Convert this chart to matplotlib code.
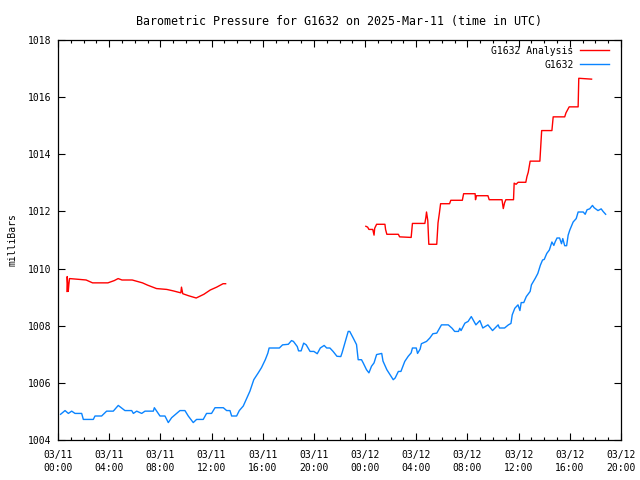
import datetime as dt
import numpy as np
import matplotlib
matplotlib.use('Agg')
import matplotlib.pyplot as plt
from matplotlib.ticker import MultipleLocator, FuncFormatter

# hours since 2025-03-11 00:00 UTC
blue_t = [0.2, 0.55, 0.81, 1.07, 1.33, 1.85, 1.98, 2.37, 2.76, 2.89, 3.41, 3.80, 4.32, 4.71,
          5.23, 5.76, 5.89, 6.15, 6.54, 6.80, 7.45, 7.53, 7.97, 8.36, 8.62, 8.88, 9.27, 9.53,
          9.92, 10.18, 10.57, 10.83, 11.35, 11.61, 12.0, 12.27, 12.92, 13.18, 13.44, 13.57,
          13.96, 14.17, 14.48, 15.0, 15.3, 15.65, 15.9, 16.2, 16.4, 16.5, 17.3, 17.55, 18.0,
          18.25, 18.4, 18.7, 18.8, 19.0, 19.2, 19.4, 19.7, 20.0, 20.26, 20.5, 20.8, 21.0,
          21.25, 21.5, 21.8, 22.1, 22.2, 22.42, 22.68, 22.8, 23.07, 23.33, 23.46, 23.72,
          23.85, 24.11, 24.3, 24.5, 24.7, 24.9, 25.3, 25.4, 25.7, 25.94, 26.2, 26.35, 26.6,
          26.8, 27.1, 27.37, 27.6, 27.7, 28.0, 28.1, 28.3, 28.4, 28.8, 29.06, 29.3, 29.6,
          29.97, 30.5, 30.8, 31.0, 31.3, 31.4, 31.5, 31.8, 32.05, 32.3, 32.66, 32.97, 33.2,
          33.6, 33.96, 34.4, 34.5, 34.9, 35.2, 35.4, 35.5, 35.7, 35.95, 36.1, 36.2, 36.4,
          36.6, 36.9, 37.0, 37.3, 37.5, 37.7, 37.87, 38.0, 38.2, 38.4, 38.6, 38.75, 38.85,
          39.0, 39.2, 39.35, 39.45, 39.6, 39.75, 39.87, 40.0, 40.26, 40.5, 40.65, 41.05,
          41.2, 41.35, 41.55, 41.77, 41.9, 42.2, 42.45, 42.6, 42.8]
blue_p = [1004.90, 1005.03, 1004.93, 1005.01, 1004.93, 1004.93, 1004.72, 1004.72, 1004.72,
          1004.84, 1004.84, 1005.01, 1005.01, 1005.21, 1005.03, 1005.03, 1004.93, 1005.01,
          1004.93, 1005.01, 1005.01, 1005.13, 1004.84, 1004.84, 1004.61, 1004.78, 1004.93,
          1005.03, 1005.03, 1004.84, 1004.61, 1004.72, 1004.72, 1004.93, 1004.93, 1005.13,
          1005.13, 1005.03, 1005.03, 1004.84, 1004.84, 1005.03, 1005.19, 1005.71, 1006.11,
          1006.35, 1006.53, 1006.81, 1007.04, 1007.22, 1007.22, 1007.33, 1007.35, 1007.48,
          1007.45, 1007.27, 1007.12, 1007.12, 1007.39, 1007.33, 1007.10, 1007.10, 1007.02,
          1007.22, 1007.31, 1007.22, 1007.22, 1007.10, 1006.93, 1006.92, 1007.05, 1007.39,
          1007.80, 1007.80, 1007.57, 1007.34, 1006.81, 1006.81, 1006.70, 1006.46, 1006.35,
          1006.58, 1006.70, 1006.99, 1007.03, 1006.76, 1006.46, 1006.29, 1006.11, 1006.17,
          1006.40, 1006.40, 1006.75, 1006.93, 1007.05, 1007.22, 1007.22, 1007.03, 1007.18,
          1007.37, 1007.45, 1007.57, 1007.72, 1007.74, 1008.03, 1008.03, 1007.91, 1007.80,
          1007.80, 1007.91, 1007.83, 1008.09, 1008.15, 1008.32, 1008.03, 1008.18, 1007.92,
          1008.03, 1007.83, 1008.03, 1007.92, 1007.92, 1008.03, 1008.08, 1008.38, 1008.61,
          1008.73, 1008.53, 1008.81, 1008.81, 1009.02, 1009.20, 1009.43, 1009.66, 1009.83,
          1010.12, 1010.30, 1010.32, 1010.53, 1010.65, 1010.93, 1010.81, 1010.93, 1011.07,
          1011.07, 1010.87, 1011.05, 1010.80, 1010.80, 1011.17, 1011.35, 1011.63, 1011.75,
          1011.98, 1011.98, 1011.90, 1012.06, 1012.09, 1012.21, 1012.13, 1012.03, 1012.09,
          1012.00, 1011.90]

red_t1 = [0.7, 0.72, 0.8, 0.85, 0.9, 1.7, 2.2, 2.7, 3.9, 4.4, 4.7, 5.0, 5.8, 6.6, 7.0, 7.7,
          8.5, 9.0, 9.6, 9.65, 9.75, 10.2, 10.8, 11.4, 11.9, 12.4, 12.9, 13.1]
red_p1 = [1009.20, 1009.72, 1009.20, 1009.45, 1009.65, 1009.62, 1009.60, 1009.50, 1009.50,
          1009.58, 1009.65, 1009.60, 1009.60, 1009.50, 1009.42, 1009.30, 1009.27, 1009.22,
          1009.15, 1009.35, 1009.12, 1009.05, 1008.97, 1009.10, 1009.25, 1009.35, 1009.47,
          1009.47]
red_t2 = [24.06, 24.2, 24.3, 24.6, 24.7, 24.75, 24.9, 25.55, 25.6, 25.7, 26.6, 26.7, 27.6,
          27.7, 28.67, 28.75, 28.8, 28.9, 28.98, 29.6, 29.7, 29.8, 29.9, 30.6, 30.7, 31.6,
          31.7, 32.6, 32.63, 32.7, 33.6, 33.7, 33.9, 34.7, 34.8, 34.9, 35.0, 35.6, 35.65,
          35.8, 35.96, 36.56, 36.65, 36.75, 36.9, 37.66, 37.8, 38.6, 38.7, 39.6, 39.7,
          39.95, 40.65, 40.7, 41.7]
red_p2 = [1011.48, 1011.45, 1011.37, 1011.37, 1011.17, 1011.41, 1011.55, 1011.55, 1011.37,
          1011.20, 1011.20, 1011.11, 1011.09, 1011.58, 1011.58, 1011.79, 1011.98, 1011.68,
          1010.85, 1010.85, 1011.60, 1011.92, 1012.27, 1012.27, 1012.39, 1012.39, 1012.62,
          1012.62, 1012.41, 1012.55, 1012.55, 1012.41, 1012.41, 1012.41, 1012.10, 1012.30,
          1012.41, 1012.41, 1012.99, 1012.95, 1013.02, 1013.02, 1013.22, 1013.37, 1013.76,
          1013.76, 1014.83, 1014.83, 1015.31, 1015.31, 1015.45, 1015.66, 1015.66, 1016.66,
          1016.63]

start = dt.datetime(2025, 3, 11, 0, 0)

plt.rcParams['font.family'] = 'DejaVu Sans Mono'
plt.rcParams['font.size'] = 7

fig = plt.figure(figsize=(6.4, 4.8), dpi=100)
ax = fig.add_axes([58/640, 40/480, (621-58)/640, 400/480])

red_t = red_t1 + [np.nan] + red_t2
red_p = red_p1 + [np.nan] + red_p2
ax.plot(red_t, red_p, color='#ff0000', lw=1.0, label='G1632 Analysis')
ax.plot(blue_t, blue_p, color='#0a84ff', lw=1.0, label='G1632')

ax.set_xlim(0, 44)
ax.set_ylim(1004, 1018)
ax.xaxis.set_major_locator(MultipleLocator(4))
ax.xaxis.set_minor_locator(MultipleLocator(1))
ax.yaxis.set_major_locator(MultipleLocator(2))
ax.xaxis.set_major_formatter(FuncFormatter(
    lambda h, pos: (start + dt.timedelta(hours=h)).strftime('%m/%d\n%H:%M')))
ax.tick_params(which='both', direction='in', top=True, right=True, colors='black')
ax.tick_params(which='major', length=5, width=0.8)
ax.tick_params(which='minor', length=2.5, width=0.8)
ax.tick_params(axis='x', pad=7.5)
ax.tick_params(axis='y', pad=4.5)
for lbl in ax.get_xticklabels():
    lbl.set_linespacing(1.35)
for s in ax.spines.values():
    s.set_linewidth(0.9)

ax.set_ylabel('milliBars')
ax.yaxis.set_label_coords(-0.072, 0.5)
ax.set_title('Barometric Pressure for G1632 on 2025-Mar-11 (time in UTC)', pad=11)

ax.legend(loc='upper right', bbox_to_anchor=(0.985, 0.995), borderaxespad=0,
          frameon=False, markerfirst=False, handlelength=2.9,
          handletextpad=0.7, labelspacing=0.4)

fig.savefig('out.png', dpi=100)
